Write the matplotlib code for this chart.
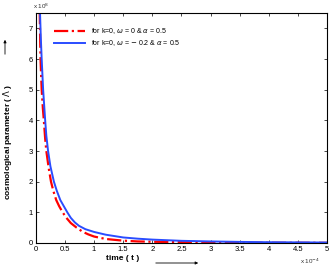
import numpy as np
import matplotlib
matplotlib.use("Agg")
import matplotlib.pyplot as plt
from matplotlib.patches import FancyArrowPatch

# time in units of 1e-4, Lambda in units of 1e8
t_red = [0.065, 0.08, 0.1, 0.12, 0.137, 0.16, 0.18, 0.22, 0.26, 0.3, 0.35, 0.4, 0.46, 0.52,
         0.6, 0.7, 0.8, 0.9, 1.0, 1.2, 1.5, 1.75, 2.0, 2.5, 3.0, 4.0, 5.0]
lam_red = [7.6, 6.0, 5.0, 4.4, 4.0, 3.4, 3.0, 2.45, 2.0, 1.7, 1.4, 1.2, 1.0, 0.83,
           0.65, 0.5, 0.37, 0.28, 0.21, 0.13, 0.075, 0.05, 0.04, 0.025, 0.015, 0.008, 0.005]

t_blue = [0.07, 0.085, 0.1, 0.125, 0.16, 0.18, 0.21, 0.25, 0.31, 0.36, 0.42, 0.48, 0.54,
          0.6, 0.67, 0.74, 0.85, 1.0, 1.2, 1.5, 1.75, 2.0, 2.5, 3.0, 3.5, 4.0, 4.5, 5.0]
lam_blue = [7.6, 6.7, 6.0, 5.0, 4.0, 3.5, 3.0, 2.5, 2.0, 1.7, 1.4, 1.2, 1.0,
            0.82, 0.67, 0.56, 0.45, 0.36, 0.27, 0.18, 0.14, 0.11, 0.07, 0.05, 0.035, 0.025, 0.02, 0.015]

labels = [r'for k=0, $\omega$ = 0 & $\alpha$ = 0.5',
          r'for k=0, $\omega$ = $-$ 0.2 & $\alpha$ = 0.5']
xticks = np.arange(0, 5.01, 0.5)
yticks = np.arange(0, 7.01, 1)

plt.rcParams['font.family'] = ['Liberation Sans', 'DejaVu Sans']
plt.rcParams['mathtext.fontset'] = 'dejavusans'

fig = plt.figure(figsize=(3.32, 2.67), dpi=100)
ax = fig.add_axes([0.108, 0.09, 0.877, 0.861])

ax.plot(t_red, lam_red, color='#ff0000', ls='-.', lw=1.6, label=labels[0])
ax.plot(t_blue, lam_blue, color='#2a4cff', ls='-', lw=1.4, label=labels[1])

ax.set_xlim(0, 5)
ax.set_ylim(0, 7.5)
ax.set_xticks(xticks)
ax.set_xticklabels(['%g' % v for v in xticks])
ax.set_yticks(yticks)
ax.set_yticklabels(['%g' % v for v in yticks])

ax.tick_params(direction='in', top=True, right=True, labelsize=5.5,
               length=2.5, width=0.5, pad=2)
for s in ax.spines.values():
    s.set_linewidth(0.8)

# multipliers like matlab
fig.text(33 / 332, 1 - 6 / 267, r'x 10$^{8}$', fontsize=4.5, ha='left', va='center',
         color='#333333')
fig.text(300 / 332, 1 - 261 / 267, r'x 10$^{-4}$', fontsize=4.5, ha='left', va='center',
         color='#333333')

ax.legend(loc='upper left', bbox_to_anchor=(0.04, 0.97), frameon=False,
          fontsize=5, handlelength=4.5, labelspacing=0.3)

fig.text(0.37, 0.018, 'time ( t )', fontsize=6, fontweight='bold',
         ha='center', va='bottom')
fig.add_artist(FancyArrowPatch(
    (153 / 332, 1 - 263 / 267), (201 / 332, 1 - 263 / 267),
    transform=fig.transFigure, arrowstyle='-|>', mutation_scale=4,
    lw=0.6, color='black'))

fig.text(0.022, 0.47, r'cosmological parameter ( $\Lambda$ )', fontsize=6,
         fontweight='bold', rotation=90, ha='center', va='center')
fig.add_artist(FancyArrowPatch(
    (5 / 332, 1 - 57 / 267), (5 / 332, 1 - 37 / 267),
    transform=fig.transFigure, arrowstyle='-|>', mutation_scale=4,
    lw=0.6, color='black'))

fig.savefig('out.png', dpi=100)
